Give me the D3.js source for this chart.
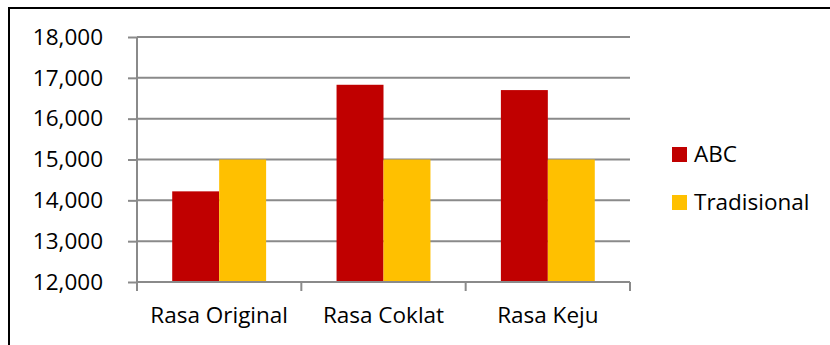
<!DOCTYPE html>
<html>
<head>
<meta charset="utf-8">
<script src="https://cdn.jsdelivr.net/npm/d3@7/dist/d3.min.js"></script>
<style>
  html, body { margin: 0; padding: 0; background: #fff; }
  svg { display: block; }
  text { font-family: "Open Sans", sans-serif; fill: #000; }
</style>
</head>
<body>
<svg id="chart" width="830" height="345"></svg>
<script>
const categories = ["Rasa Original", "Rasa Coklat", "Rasa Keju"];
const seriesNames = ["ABC", "Tradisional"];
const abcValues = [14220, 16830, 16700];
const tradisionalValues = [15000, 15000, 15000];
const yTicks = [12000, 13000, 14000, 15000, 16000, 17000, 18000];
const seriesColors = ["#C00000", "#FFC000"];

const svg = d3.select("#chart");
const mLeft = 137, mRight = 630, mTop = 37, mBottom = 282;
const fontSize = "22.5px";

// outer frame (cropped at right/bottom)
svg.append("path")
  .attr("d", `M9,345 L9,8 L830,8`)
  .attr("fill", "none").attr("stroke", "#000").attr("stroke-width", 2);

const x0 = d3.scaleBand().domain(categories).range([mLeft, mRight]).paddingInner(0).paddingOuter(0);
const y = d3.scaleLinear().domain([12000, 18000]).range([mBottom, mTop]);

const bandW = x0.bandwidth();
const barW = bandW / 3.5;          // gap width 150%
const gap = (bandW - 2 * barW) / 2;

// gridlines
svg.append("g").selectAll("line").data(yTicks.slice(1)).join("line")
  .attr("x1", mLeft).attr("x2", mRight)
  .attr("y1", d => y(d)).attr("y2", d => y(d))
  .attr("stroke", "#8a8a8a").attr("stroke-width", 2);

// bars
const data = categories.map((c, i) => ({ cat: c, vals: [abcValues[i], tradisionalValues[i]] }));
svg.append("g").selectAll("g").data(data).join("g")
  .selectAll("rect").data(d => d.vals.map((v, j) => ({ cat: d.cat, v, j }))).join("rect")
  .attr("x", d => x0(d.cat) + gap + d.j * barW)
  .attr("y", d => y(d.v))
  .attr("width", barW)
  .attr("height", d => y(12000) - y(d.v))
  .attr("fill", d => seriesColors[d.j]);

// y axis
const yAxis = d3.axisLeft(y).tickValues(yTicks).tickFormat(d3.format(",")).tickSize(9).tickPadding(25);
const gy = svg.append("g").attr("transform", `translate(${mLeft},0)`).call(yAxis);
gy.select(".domain").attr("stroke", "#8a8a8a").attr("stroke-width", 2).attr("d", `M0,${mBottom}V${mTop}`);
gy.selectAll(".tick line").attr("stroke", "#8a8a8a").attr("stroke-width", 2);
gy.selectAll(".tick text").style("font-family", "'Open Sans', sans-serif").style("font-size", fontSize).attr("fill", "#000");

// x axis
const xAxis = d3.axisBottom(x0).tickSize(0).tickPadding(25);
const gx = svg.append("g").attr("transform", `translate(0,${mBottom})`).call(xAxis);
gx.select(".domain").attr("stroke", "#8a8a8a").attr("stroke-width", 2).attr("d", `M${mLeft},0H${mRight}`);
gx.selectAll(".tick text").style("font-family", "'Open Sans', sans-serif").style("font-size", fontSize).attr("fill", "#000");
const bounds = categories.map(c => x0(c)).concat([mRight]);
gx.append("g").selectAll("line").data(bounds).join("line")
  .attr("x1", d => d).attr("x2", d => d).attr("y1", 0).attr("y2", 9)
  .attr("stroke", "#8a8a8a").attr("stroke-width", 2);

// legend
const legend = svg.append("g").selectAll("g").data(seriesNames).join("g")
  .attr("transform", (d, i) => `translate(672,${147 + i * 48})`);
legend.append("rect").attr("width", 15).attr("height", 15).attr("fill", (d, i) => seriesColors[i]);
legend.append("text").attr("x", 22).attr("y", 15).style("font-size", fontSize).text(d => d);
</script>
</body>
</html>
